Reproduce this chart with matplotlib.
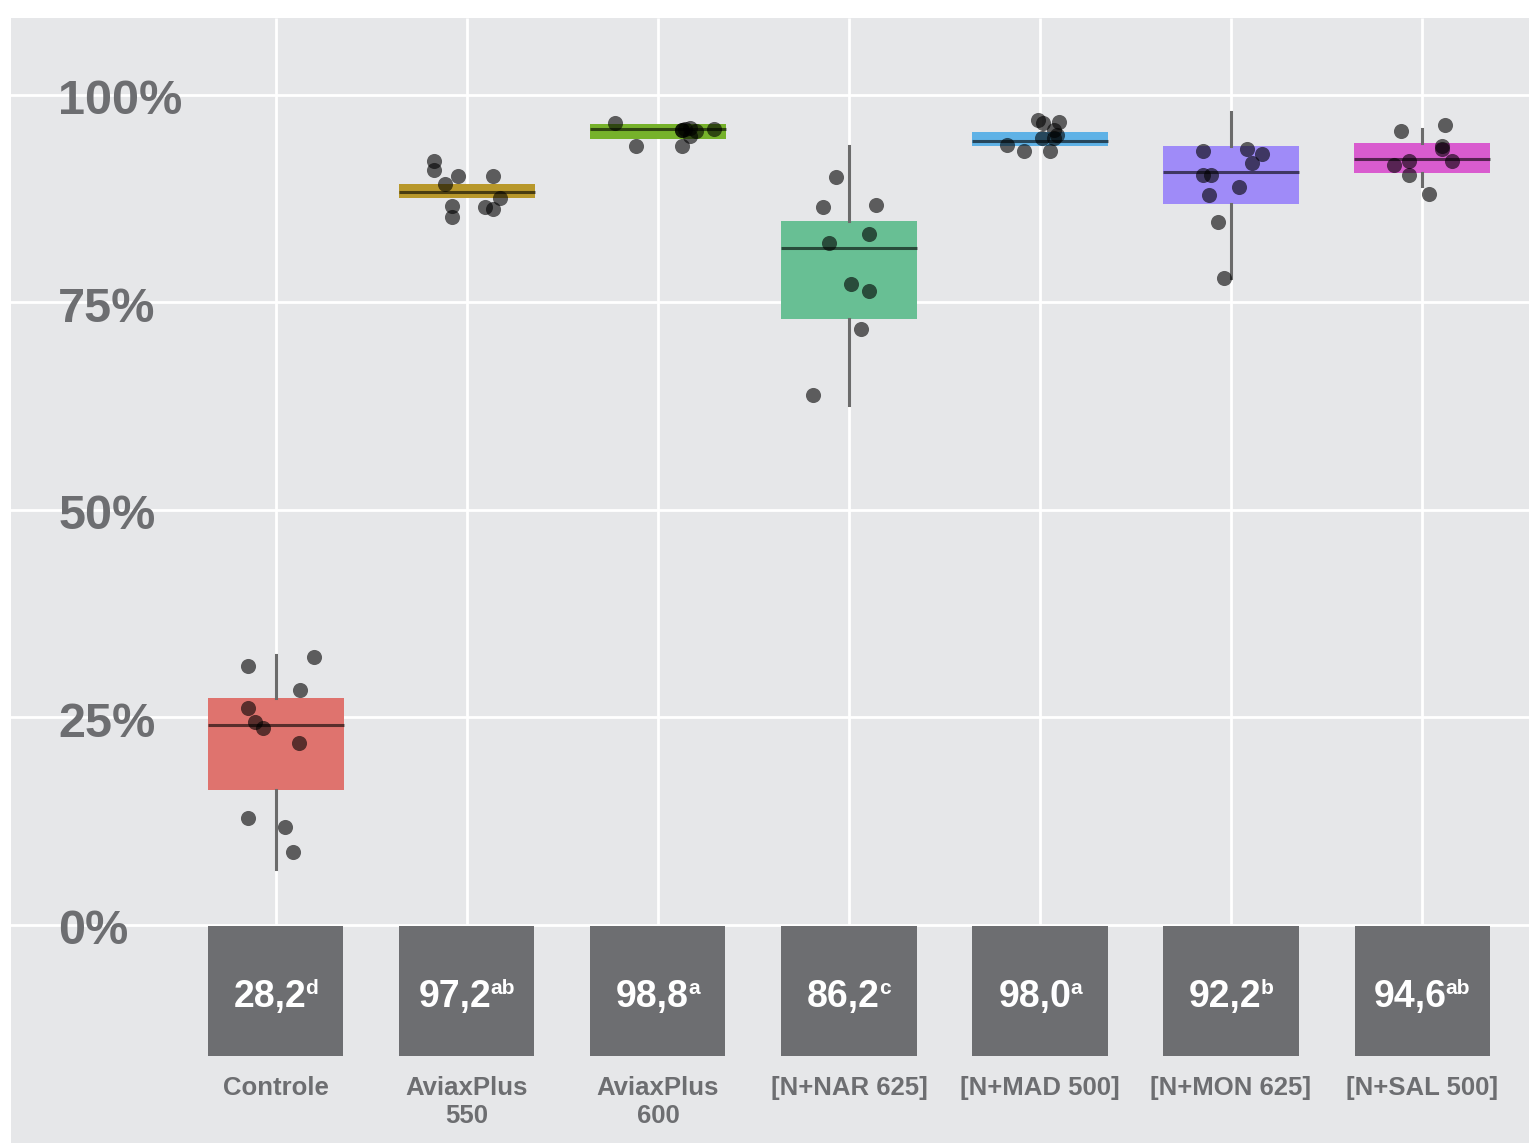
import numpy as np
import matplotlib.pyplot as plt
from matplotlib.transforms import blended_transform_factory, offset_copy

plt.rcParams['font.family'] = ['Liberation Sans', 'DejaVu Sans']

# Treatments and summary values shown under each box
treatments = ['Controle', 'AviaxPlus\n550', 'AviaxPlus\n600', '[N+NAR 625]',
              '[N+MAD 500]', '[N+MON 625]', '[N+SAL 500]']
mean_labels = ['28,2', '97,2', '98,8', '86,2', '98,0', '92,2', '94,6']
letters = ['d', 'ab', 'a', 'c', 'a', 'b', 'ab']
box_colors = ['#df736e', '#b8982b', '#76b22b', '#68bf94', '#5fb2e6', '#9f8bf8', '#d95ccf']

# Box statistics (%)
q1 = [16.2, 87.6, 94.7, 73.0, 93.8, 86.8, 90.6]
med = [24.1, 88.3, 95.9, 81.5, 94.4, 90.7, 92.3]
q3 = [27.3, 89.3, 96.5, 84.8, 95.5, 93.9, 94.2]
whislo = [6.7, 87.6, 94.7, 62.6, 93.8, 77.9, 89.0]
whishi = [32.5, 89.3, 96.5, 93.8, 95.5, 97.9, 95.9]

# Individual observations (%), with their horizontal jitter
controle_y = [31.2, 32.2, 28.3, 26.1, 24.4, 23.7, 21.9, 12.8, 11.8, 8.7]
controle_dx = [-0.147, 0.197, 0.127, -0.147, -0.108, -0.070, 0.119, -0.148, 0.049, 0.087]
aviax550_y = [92.1, 91.0, 90.2, 89.3, 90.2, 87.6, 86.6, 85.3, 86.5, 86.2]
aviax550_dx = [-0.171, -0.171, -0.047, -0.117, 0.135, 0.173, -0.079, -0.079, 0.096, 0.135]
aviax600_y = [96.6, 93.9, 95.8, 95.8, 96.0, 95.0, 95.7, 95.9, 93.8, 95.9]
aviax600_dx = [-0.225, -0.113, 0.128, 0.128, 0.166, 0.166, 0.201, 0.292, 0.128, 0.140]
nar_y = [90.1, 86.5, 86.7, 83.2, 82.2, 77.2, 76.4, 71.8, 63.8]
nar_dx = [-0.068, -0.134, 0.141, 0.103, -0.106, 0.010, 0.103, 0.063, -0.186]
mad_y = [97.0, 96.6, 96.8, 95.8, 94.8, 94.8, 94.0, 93.2, 93.3, 95.2]
mad_dx = [-0.009, 0.017, 0.099, 0.075, 0.012, 0.075, -0.174, -0.084, 0.052, 0.089]
mon_y = [93.2, 93.5, 92.9, 91.8, 90.3, 90.3, 88.9, 87.9, 84.7, 77.9]
mon_dx = [-0.145, 0.082, 0.161, 0.112, -0.145, -0.106, 0.042, -0.115, -0.068, -0.037]
sal_y = [95.6, 96.4, 93.8, 93.5, 92.0, 91.5, 92.0, 90.3, 88.1]
sal_dx = [-0.108, 0.118, 0.103, 0.103, -0.070, -0.149, 0.157, -0.070, 0.038]

points_y = [controle_y, aviax550_y, aviax600_y, nar_y, mad_y, mon_y, sal_y]
points_dx = [controle_dx, aviax550_dx, aviax600_dx, nar_dx, mad_dx, mon_dx, sal_dx]

yticks = [0, 25, 50, 75, 100]

text_gray = '#6d6e71'
panel_bg = '#e6e7e9'

fig = plt.figure(figsize=(15.29, 11.43), dpi=100)
ax = fig.add_axes([11 / 1529, 0, 1 - 11 / 1529, 1 - 18 / 1143])
ax.set_facecolor(panel_bg)
ax.set_xlim(-1.387, 6.56)
ax.set_ylim(-26.34, 109.28)
for s in ax.spines.values():
    s.set_visible(False)
ax.set_xticks([])
ax.set_yticks([])

pos = np.arange(len(treatments))

# white grid: horizontal across the panel, vertical only above 0%
for yt in yticks:
    ax.axhline(yt, color='white', lw=2.0, zorder=1)
ax.vlines(pos, 0, ax.get_ylim()[1], color='white', lw=2.0, zorder=1)

stats = [dict(q1=a, med=b, q3=c, whislo=d, whishi=e)
         for a, b, c, d, e in zip(q1, med, q3, whislo, whishi)]
bp = ax.bxp(stats, positions=pos, widths=0.712, patch_artist=True,
            showfliers=False, showcaps=False, manage_ticks=False,
            boxprops=dict(linewidth=0),
            medianprops=dict(color='black', alpha=0.6, lw=2.2),
            whiskerprops=dict(color='#6b6b6b', lw=2.2),
            zorder=2)
for patch, c in zip(bp['boxes'], box_colors):
    patch.set_facecolor(c)
    patch.set_edgecolor('none')

for i, (ys, dxs) in enumerate(zip(points_y, points_dx)):
    ax.scatter(pos[i] + np.array(dxs), ys, s=118, color='black', alpha=0.6,
               linewidths=0, zorder=4)

# y labels drawn inside the panel
trans = blended_transform_factory(ax.transAxes, ax.transData)
for yt in yticks:
    ax.text(0.031, yt - 2.35, f'{yt}%', transform=trans, ha='left', va='baseline',
            fontsize=35, fontweight='bold', color=text_gray, zorder=5)

# summary boxes under the axis
ax.bar(pos, -15.72, bottom=-0.18, width=0.707, color=text_gray, zorder=1)
main_txt, sup_txt = [], []
for i in range(len(treatments)):
    main_txt.append(ax.text(pos[i], -9.9, mean_labels[i], ha='left', va='baseline',
                            fontsize=27, fontweight='bold', color='white', zorder=5))
    sup_txt.append(ax.text(pos[i], -8.4, letters[i], ha='left', va='baseline',
                           fontsize=15, fontweight='bold', color='white', zorder=5))
    ax.text(pos[i], -18.26, treatments[i], ha='center', va='top', fontsize=18.5,
            fontweight='bold', color=text_gray, linespacing=1.2)

# centre each "value + letters" pair on its box
renderer = fig.canvas.get_renderer()
gap = -1
for m, s in zip(main_txt, sup_txt):
    wm = m.get_window_extent(renderer).width
    ws = s.get_window_extent(renderer).width
    start = -(wm + gap + ws) / 2
    m.set_transform(offset_copy(ax.transData, fig=fig, x=start, y=0, units='dots'))
    s.set_transform(offset_copy(ax.transData, fig=fig, x=start + wm + gap, y=0, units='dots'))

fig.savefig('out.png', dpi=100)
